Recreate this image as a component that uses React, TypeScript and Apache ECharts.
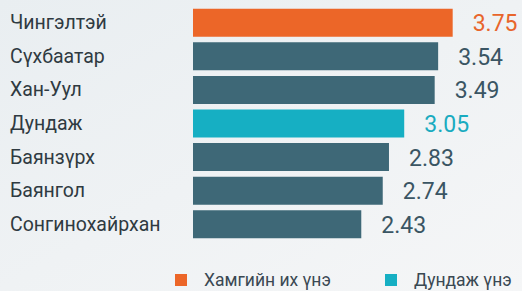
import React, { useEffect, useRef } from "react";
import * as echarts from "echarts";

const categories = ["Чингэлтэй", "Сүхбаатар", "Хан-Уул", "Дундаж", "Баянзүрх", "Баянгол", "Сонгинохайрхан"];
const values = [3.75, 3.54, 3.49, 3.05, 2.83, 2.74, 2.43];
const kinds = ["max", "normal", "normal", "avg", "normal", "normal", "normal"];
const legendNames = ["Хамгийн их үнэ", "Дундаж үнэ"];

const COLORS: Record<string, string> = { max: "#ec6628", normal: "#3e6877", avg: "#16afc3" };
const LABEL_COLORS: Record<string, string> = { max: "#e8652b", normal: "#3a5563", avg: "#1aabc0" };

export default function App() {
  const ref = useRef<HTMLDivElement>(null);
  useEffect(() => {
    if (!ref.current) return;
    const chart = echarts.init(ref.current, undefined, { renderer: "svg" });
    const legendCommon = {
      top: 266,
      icon: "rect",
      itemWidth: 12,
      itemHeight: 12,
      textStyle: { fontFamily: "Roboto", fontSize: 17.5, color: "#3a4852", padding: [0, 0, 0, 12] },
    };
    chart.setOption({
      animation: false,
      backgroundColor: {
        type: "linear", x: 0, y: 0, x2: 1, y2: 1,
        colorStops: [
          { offset: 0, color: "#e9eef1" },
          { offset: 1, color: "#f5f6f7" },
        ],
      },
      grid: { left: 193, right: 52, top: 6, height: 235 },
      xAxis: { type: "value", min: 0, max: 4, show: false },
      yAxis: {
        type: "category",
        data: categories,
        inverse: true,
        axisLine: { show: false },
        axisTick: { show: false },
        axisLabel: {
          align: "left",
          margin: 183,
          fontFamily: "Roboto",
          fontSize: 19.5,
          color: "#2f3a41",
        },
      },
      legend: [
        { ...legendCommon, left: 170, data: [legendNames[0]] },
        { ...legendCommon, left: 380, data: [legendNames[1]] },
      ],
      series: [
        {
          type: "bar",
          barWidth: 28,
          data: values.map((v, i) => ({
            value: v,
            itemStyle: { color: COLORS[kinds[i]] },
            label: { color: LABEL_COLORS[kinds[i]] },
          })),
          label: {
            show: true,
            position: "right",
            distance: 20,
            offset: [0, 1],
            fontFamily: "Roboto",
            fontSize: 23,
            formatter: (p: any) => p.value.toFixed(2),
          },
        },
        { type: "line", name: legendNames[0], data: [], itemStyle: { color: COLORS.max }, lineStyle: { color: COLORS.max } },
        { type: "line", name: legendNames[1], data: [], itemStyle: { color: COLORS.avg }, lineStyle: { color: COLORS.avg } },
      ],
    });
    return () => chart.dispose();
  }, []);
  return <div ref={ref} style={{ position: "absolute", left: 0, top: 0, width: 522, height: 291 }} />;
}
